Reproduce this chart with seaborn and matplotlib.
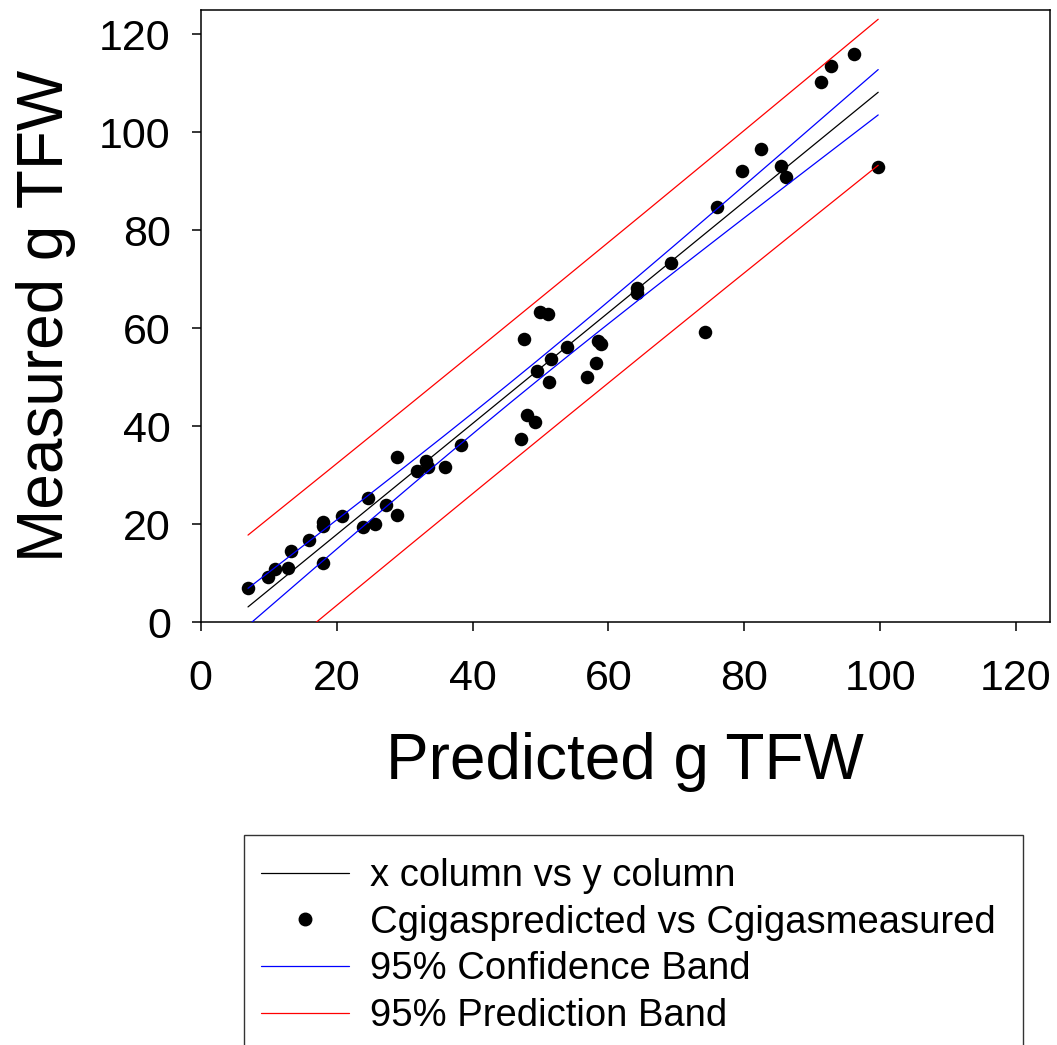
import numpy as np
import pandas as pd
import seaborn as sns
import matplotlib
matplotlib.use("Agg")
import matplotlib.pyplot as plt
from matplotlib.lines import Line2D
from matplotlib.patches import Rectangle

# Values (predicted vs measured, g TFW)
predicted = [6.96, 9.85, 10.93, 12.84, 13.28, 15.93, 17.94, 18.03, 18.03, 20.82,
             23.91, 24.60, 25.68, 27.21, 28.87, 28.87, 31.76, 33.13, 33.47, 35.93,
             38.32, 47.15, 48.03, 49.16, 47.65, 49.90, 51.12, 49.56, 51.32, 51.62,
             53.87, 56.91, 58.18, 58.50, 58.94, 64.16, 64.26, 74.16, 69.16, 76.03,
             79.65, 82.44, 85.34, 86.07, 91.26, 92.79, 96.18, 99.71]
measured = [7.0, 9.18, 10.88, 11.14, 14.49, 16.80, 19.65, 20.53, 12.16, 21.63,
            19.51, 25.31, 20.06, 24.0, 33.73, 21.84, 30.94, 32.98, 31.63, 31.69,
            36.24, 37.47, 42.37, 40.82, 57.88, 63.39, 62.92, 51.35, 49.04, 53.67,
            56.12, 50.06, 52.98, 57.5, 56.8, 68.16, 67.14, 59.31, 73.39, 84.82,
            92.16, 96.65, 93.12, 90.82, 110.2, 113.6, 116.04, 92.86]

legend_labels = ["x column vs y column", "Cgigaspredicted vs Cgigasmeasured",
                 "95% Confidence Band", "95% Prediction Band"]
ticks = [0, 20, 40, 60, 80, 100, 120]

T_975 = 2.013  # t(0.975, df = n - 2 = 46)

df = pd.DataFrame({"predicted": predicted, "measured": measured})

# linear fit with confidence / prediction bands
x = df["predicted"].to_numpy()
y = df["measured"].to_numpy()
n = len(x)
slope, intercept = np.polyfit(x, y, 1)
resid = y - (intercept + slope * x)
s = np.sqrt(np.sum(resid ** 2) / (n - 2))
sxx = np.sum((x - x.mean()) ** 2)
xs = np.linspace(x.min(), x.max(), 200)
fit = intercept + slope * xs
se_mean = s * np.sqrt(1 / n + (xs - x.mean()) ** 2 / sxx)
se_pred = s * np.sqrt(1 + 1 / n + (xs - x.mean()) ** 2 / sxx)
bands = pd.DataFrame({
    "x": xs, "fit": fit,
    "conf_lo": fit - T_975 * se_mean, "conf_hi": fit + T_975 * se_mean,
    "pred_lo": fit - T_975 * se_pred, "pred_hi": fit + T_975 * se_pred,
})

sns.set_style("ticks")
plt.rcParams["font.family"] = ["Liberation Sans", "DejaVu Sans"]
plt.rcParams["text.color"] = "black"
plt.rcParams["axes.labelcolor"] = "black"

fig = plt.figure(figsize=(10.57, 10.45), dpi=100)
ax = fig.add_axes([0.1899, 0.4045, 0.8035, 0.5862])

sns.scatterplot(data=df, x="predicted", y="measured", ax=ax, color="black",
                s=95, linewidth=0, zorder=2, legend=False)

line_kw = dict(ax=ax, linewidth=0.9, estimator=None, sort=False, legend=False, zorder=3)
sns.lineplot(data=bands, x="x", y="fit", color="black", **line_kw)
sns.lineplot(data=bands, x="x", y="conf_lo", color="blue", **line_kw)
sns.lineplot(data=bands, x="x", y="conf_hi", color="blue", **line_kw)
sns.lineplot(data=bands, x="x", y="pred_lo", color="red", **line_kw)
sns.lineplot(data=bands, x="x", y="pred_hi", color="red", **line_kw)

ax.set_xlim(0, 125)
ax.set_ylim(0, 125)
ax.set_xticks(ticks)
ax.set_yticks(ticks)
ax.tick_params(axis="both", direction="out", length=6.5, width=1.1,
               labelsize=31, colors="black")
ax.tick_params(axis="x", pad=20)
ax.tick_params(axis="y", pad=15)
for sp in ax.spines.values():
    sp.set_visible(True)
    sp.set_color("black")
    sp.set_linewidth(1.1)

ax.set_xlabel("Predicted g TFW", fontsize=46, labelpad=24, color="black")
ax.set_ylabel("Measured g TFW", fontsize=46, labelpad=17, color="black")

# legend box: runs off the bottom of the figure like the original
fig.patches.append(Rectangle((244 / 1057, -0.1), 779 / 1057, 0.1 + (1045 - 835) / 1045,
                             transform=fig.transFigure, fill=False,
                             edgecolor="#333333", linewidth=1.0))

handles = [
    Line2D([], [], color="black", lw=0.9),
    Line2D([], [], color="black", ls="none", marker="o", markersize=9),
    Line2D([], [], color="blue", lw=0.9),
    Line2D([], [], color="red", lw=0.9),
]
leg = fig.legend(handles, legend_labels, loc="upper left",
                 bbox_to_anchor=(261 / 1057, 1 - 858 / 1045),
                 fontsize=27.5, frameon=False, borderpad=0,
                 labelspacing=0.28, handlelength=2.3, handletextpad=0.55,
                 borderaxespad=0)
for t in leg.get_texts():
    t.set_color("black")

fig.savefig("out.png", dpi=100)
